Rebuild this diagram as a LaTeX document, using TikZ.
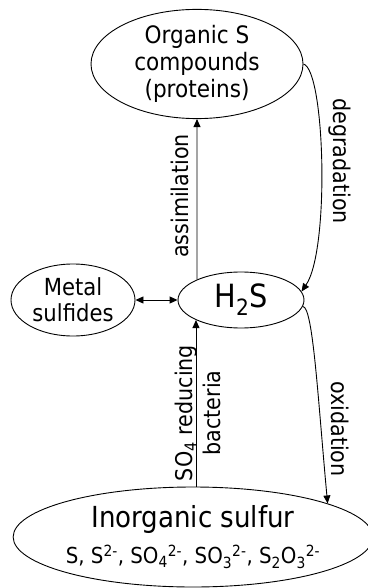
\documentclass[tikz,border=0pt]{standalone}
\usepackage{fontspec}
\setmainfont{DejaVu Sans Condensed}
\usetikzlibrary{shapes.geometric,arrows.meta}
\tikzset{
  pool/.style={draw, ellipse, inner sep=0pt, align=center, line width=0.9pt},
  flow/.style={draw, line width=0.9pt, -{Triangle[length=8pt,width=7pt]}},
  lbl/.style={font=\fontsize{23}{28}\selectfont, inner sep=0pt, align=center}
}
\begin{document}
\begin{tikzpicture}[x=1pt,y=-1pt]
\useasboundingbox (0,0) rectangle (367,588);

% sulfur pools
\node[pool, minimum width=212pt, minimum height=108pt,
      font=\fontsize{24}{27}\selectfont] (organic) at (197,64)
      {Organic S\\compounds\\(proteins)};
\node[pool, minimum width=124pt, minimum height=72pt,
      font=\fontsize{23.5}{26}\selectfont] (metal) at (73,300)
      {Metal\\sulfides};
\node[pool, minimum width=126pt, minimum height=56pt,
      font=\fontsize{32}{34}\selectfont] (h2s) at (241,300)
      {H\textsubscript{2}S};
\node[pool, minimum width=352pt, minimum height=100pt,
      font=\fontsize{22}{36}\selectfont] (inorg) at (193,537)
      {{\fontsize{29}{36}\selectfont Inorganic sulfur}\\
       S, S\textsuperscript{2-}, SO\textsubscript{4}\textsuperscript{2-}, SO\textsubscript{3}\textsuperscript{2-}, S\textsubscript{2}O\textsubscript{3}\textsuperscript{2-}};

% transformations
\draw[flow] (h2s.155.5) -- (organic.south);
\draw[flow] (organic.east) .. controls (325,70) and (330,250) .. (h2s.8);
\draw[flow] (h2s.-6) .. controls (313,306) and (318,400) .. (inorg.14.5);
\draw[flow] (h2s.204.5 |- inorg.north) -- (h2s.204.5);
\draw[line width=0.9pt, {Triangle[length=8pt,width=7pt]}-{Triangle[length=8pt,width=7pt]}]
  (metal.east) -- (h2s.west);

% labels
\node[lbl, rotate=90] (la) at (180,196) {assimilation};
\node[lbl, rotate=-90] (ld) at (340,161) {degradation};
\node[lbl, rotate=-90] (lo) at (340,429) {oxidation};
\node[lbl, rotate=90] (ls) at (198,413) {SO\textsubscript{4} reducing\\bacteria};
\end{tikzpicture}
\end{document}
